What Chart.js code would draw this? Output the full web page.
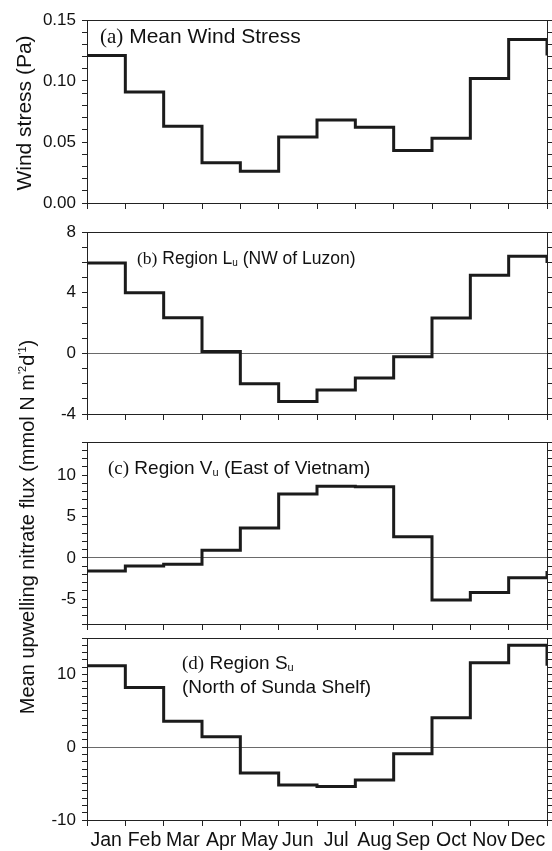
<!DOCTYPE html>
<html><head><meta charset="utf-8">
<script src="https://cdn.jsdelivr.net/npm/chart.js@4.4.1/dist/chart.umd.min.js"></script>
<style>
html,body{margin:0;padding:0;background:#fff;}
#wrap{position:relative;width:552px;height:851px;overflow:hidden;background:#fff;}
#wrap canvas{position:absolute;left:0;top:0;}
</style></head><body>
<div id="wrap">
<canvas id="ca" width="552" height="851"></canvas>
<canvas id="cb" width="552" height="851"></canvas>
<canvas id="cc" width="552" height="851"></canvas>
<canvas id="cd" width="552" height="851"></canvas>
</div>
<script>
// ---- data ----
const months = ['Jan','Feb','Mar','Apr','May','Jun','Jul','Aug','Sep','Oct','Nov','Dec'];
const windStress  = [0.121, 0.091, 0.063, 0.033, 0.026, 0.054, 0.068, 0.062, 0.043, 0.053, 0.102, 0.134];
const fluxLuzon   = [5.95, 4.0, 2.35, 0.12, -2.0, -3.18, -2.42, -1.62, -0.23, 2.33, 5.15, 6.4];
const fluxVietnam = [-1.6, -1.0, -0.77, 0.9, 3.6, 7.7, 8.65, 8.6, 2.55, -5.1, -4.2, -2.4];
const fluxSunda   = [11.2, 8.2, 3.55, 1.45, -3.55, -5.2, -5.4, -4.5, -0.9, 4.05, 11.6, 14.0];
const windTickLabels    = [0, 0.05, 0.10, 0.15];
const luzonTickLabels   = [-4, 0, 4, 8];
const vietnamTickLabels = [-5, 0, 5, 10];
const sundaTickLabels   = [-10, 0, 10];

const SANS = "'Liberation Sans', Arial, Helvetica, sans-serif";
const SERIF = "'Liberation Serif', 'Times New Roman', serif";
const W = 552, H = 851;
const FRAME_L = 87, FRAME_R = 547;

function minorTicks(min, max, step) {
  const n = Math.round((max - min) / step);
  const out = [];
  for (let k = 0; k <= n; k++) out.push(+(min + k * step).toFixed(6));
  return out;
}

function drawRich(ctx, x, y, parts) {
  let cx = x;
  parts.forEach(p => {
    ctx.font = p.font;
    ctx.fillText(p.t, cx, y + (p.dy || 0));
    cx += ctx.measureText(p.t).width;
  });
  return cx - x;
}

function textPlugin(items) {
  return {
    id: 'panelText',
    afterDraw(chart) {
      const ctx = chart.ctx;
      const a = chart.chartArea;
      ctx.save();
      ctx.strokeStyle = '#222';
      ctx.lineWidth = 1;
      ctx.beginPath();
      ctx.moveTo(a.left, Math.round(a.top) + 0.5);
      ctx.lineTo(a.right, Math.round(a.top) + 0.5);
      ctx.stroke();
      ctx.fillStyle = '#111';
      ctx.textBaseline = 'alphabetic';
      ctx.textAlign = 'left';
      items.forEach(it => {
        if (it.rotate) {
          ctx.save();
          ctx.translate(it.x, it.y);
          ctx.rotate(-Math.PI / 2);
          let tw = 0;
          it.parts.forEach(p => { ctx.font = p.font; tw += ctx.measureText(p.t).width; });
          drawRich(ctx, -tw / 2, it.base, it.parts);
          ctx.restore();
        } else {
          drawRich(ctx, it.x, it.y, it.parts);
        }
      });
      ctx.restore();
    }
  };
}

function makePanel(id, cfg) {
  const xH = cfg.showMonths ? 31 : 6;
  const ticks = minorTicks(cfg.min, cfg.max, cfg.step);
  const isMajor = v => cfg.major.some(m => Math.abs(m - v) < 1e-9);
  const pts = cfg.values.map((v, i) => ({x: i, y: v}));
  pts.push({x: 12, y: cfg.values[0]});
  return new Chart(document.getElementById(id), {
    type: 'line',
    data: { datasets: [{
      data: pts, stepped: 'before', borderColor: '#1b1b1b', borderWidth: 3,
      pointRadius: 0, fill: false, tension: 0, yAxisID: 'y', xAxisID: 'x',
      borderJoinStyle: 'miter', borderCapStyle: 'butt'
    }]},
    options: {
      responsive: false, animation: false, devicePixelRatio: 1,
      events: [],
      layout: { padding: { left: 0, right: W - FRAME_R - 5, top: cfg.top, bottom: H - cfg.bottom - xH } },
      plugins: { legend: {display: false}, tooltip: {enabled: false} },
      scales: {
        x: {
          type: 'linear', position: 'bottom', min: 0, max: 12,
          afterBuildTicks: s => { s.ticks = minorTicks(0, 12, 1).map(v => ({value: v})); },
          afterFit: s => { s.height = xH; s.paddingLeft = 0; s.paddingRight = 0; },
          grid: { drawOnChartArea: false, drawTicks: true, tickLength: 6, color: '#222', lineWidth: 1 },
          border: { display: true, color: '#222', width: 1 },
          ticks: {
            display: !!cfg.showMonths, autoSkip: false, maxRotation: 0, minRotation: 0,
            labelOffset: (FRAME_R - FRAME_L) / 24, padding: 3, color: '#111',
            font: { family: SANS, size: 19.5 },
            callback: (v, i) => months[i] || ''
          }
        },
        y: {
          type: 'linear', position: 'left', min: cfg.min, max: cfg.max,
          afterBuildTicks: s => { s.ticks = ticks.map(v => ({value: v})); },
          afterFit: s => { s.width = FRAME_L; s.paddingTop = 0; s.paddingBottom = 0; },
          grid: {
            drawOnChartArea: true, drawTicks: true, tickLength: 5, lineWidth: 1,
            color: c => (cfg.zeroLine && c.tick && Math.abs(c.tick.value) < 1e-9) ? '#6a6a6a' : 'rgba(0,0,0,0)',
            tickColor: '#222'
          },
          border: { display: true, color: '#222', width: 1 },
          ticks: {
            autoSkip: false, padding: 6, color: '#111', font: { family: SANS, size: 17 },
            callback: v => isMajor(v) ? cfg.fmt(v) : ''
          }
        },
        yR: {
          type: 'linear', position: 'right', min: cfg.min, max: cfg.max,
          afterBuildTicks: s => { s.ticks = ticks.map(v => ({value: v})); },
          afterFit: s => { s.width = 5; s.paddingTop = 0; s.paddingBottom = 0; },
          grid: { drawOnChartArea: false, drawTicks: true, tickLength: 5, color: '#222', lineWidth: 1 },
          border: { display: true, color: '#222', width: 1 },
          ticks: { display: false }
        }
      }
    },
    plugins: [textPlugin(cfg.texts)]
  });
}

const serif = s => `${s}px ${SERIF}`;
const sans = s => `${s}px ${SANS}`;

makePanel('ca', {
  values: windStress, min: 0, max: 0.15, step: 0.01, major: windTickLabels,
  fmt: v => v.toFixed(2), top: 20, bottom: 203, zeroLine: false,
  texts: [
    { x: 100, y: 43, parts: [{t: '(a)', font: serif(21)}, {t: ' Mean Wind Stress', font: sans(21)}] },
    { rotate: true, x: 24, y: 113, base: 7, parts: [{t: 'Wind stress (Pa)', font: sans(21)}] }
  ]
});
makePanel('cb', {
  values: fluxLuzon, min: -4, max: 8, step: 1, major: luzonTickLabels,
  fmt: v => String(v), top: 232, bottom: 414, zeroLine: true,
  texts: [
    { x: 137, y: 264, parts: [{t: '(b)', font: serif(17.5)}, {t: ' Region L', font: sans(17.5)},
      {t: 'u', font: sans(10), dy: 2}, {t: ' (NW of Luzon)', font: sans(17.5)}] }
  ]
});
makePanel('cc', {
  values: fluxVietnam, min: -8, max: 14, step: 1, major: vietnamTickLabels,
  fmt: v => String(v), top: 442, bottom: 624, zeroLine: true,
  texts: [
    { x: 108, y: 474, parts: [{t: '(c)', font: serif(19)}, {t: ' Region V', font: sans(19)},
      {t: 'u', font: sans(11), dy: 2}, {t: ' (East of Vietnam)', font: sans(19)}] },
    { rotate: true, x: 27, y: 527, base: 7, parts: [
      {t: 'Mean upwelling nitrate flux (mmol N m', font: sans(20)},
      {t: "'2", font: sans(11), dy: -8},
      {t: 'd', font: sans(20)},
      {t: "'1", font: sans(11), dy: -8},
      {t: ')', font: sans(20)}] }
  ]
});
makePanel('cd', {
  values: fluxSunda, min: -10, max: 15, step: 1, major: sundaTickLabels,
  fmt: v => String(v), top: 638, bottom: 820, zeroLine: true, showMonths: true,
  texts: [
    { x: 182, y: 669, parts: [{t: '(d)', font: serif(19)}, {t: ' Region S', font: sans(19)},
      {t: 'u', font: sans(11), dy: 2}] },
    { x: 182, y: 693, parts: [{t: '(North of Sunda Shelf)', font: sans(19)}] }
  ]
});
</script>
</body></html>
